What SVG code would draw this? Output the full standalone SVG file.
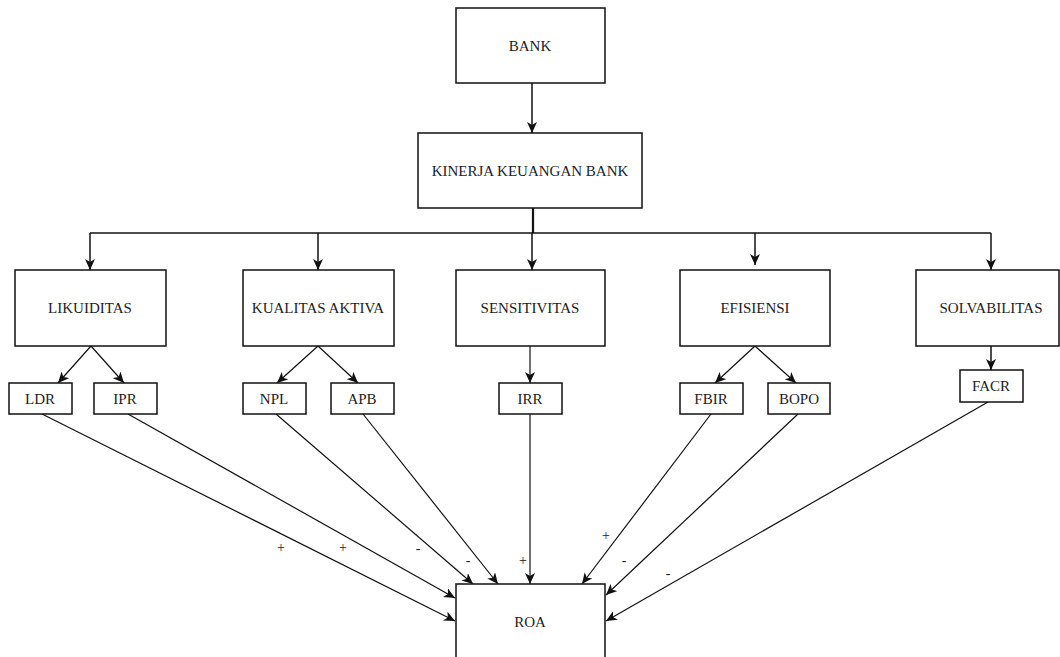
<svg xmlns="http://www.w3.org/2000/svg" width="1060" height="657" viewBox="0 0 1060 657">
<style>
.box{fill:#fff;stroke:#111;stroke-width:1.5}
.lbl{font-family:"Liberation Serif","Times New Roman",serif;font-size:15px;fill:#222;text-anchor:middle;dominant-baseline:central}
.sgn{font-family:"Liberation Serif","Times New Roman",serif;font-size:14px;fill:#222;text-anchor:middle;dominant-baseline:central}
.ln{fill:none;stroke:#111;stroke-width:1.2}
.ln2{fill:none;stroke:#111;stroke-width:1.5}
</style>
<defs>
<marker id="ah" markerUnits="userSpaceOnUse" markerWidth="12" markerHeight="10" viewBox="0 0 12 10" refX="11" refY="5" orient="auto">
<path d="M0,0 L11,5 L0,10 L3,5 z" fill="#111"/>
</marker>
</defs>
<rect width="1060" height="657" fill="#fff"/>
<g id="connectors">
<path class="ln2" d="M532,83 L532,133" marker-end="url(#ah)"/>
<path class="ln2" d="M533,208 L533,233" style="stroke-width:2.2"/>
<path class="ln2" d="M90,233 L991,233"/>
<path class="ln2" d="M90,233 L90,270" marker-end="url(#ah)"/>
<path class="ln2" d="M318,233 L318,270" marker-end="url(#ah)"/>
<path class="ln2" d="M532,233 L532,270" marker-end="url(#ah)"/>
<path class="ln2" d="M755,233 L755,265" marker-end="url(#ah)"/>
<path class="ln2" d="M991,233 L991,270" marker-end="url(#ah)"/>
<path class="ln" d="M91,346 L58,383" marker-end="url(#ah)"/>
<path class="ln" d="M91,346 L124,383" marker-end="url(#ah)"/>
<path class="ln" d="M318,346 L277,383" marker-end="url(#ah)"/>
<path class="ln" d="M318,346 L358,383" marker-end="url(#ah)"/>
<path class="ln" d="M530,346 L530,383" marker-end="url(#ah)"/>
<path class="ln" d="M755,346 L715,383" marker-end="url(#ah)"/>
<path class="ln" d="M755,346 L796,383" marker-end="url(#ah)"/>
<path class="ln2" d="M991,346 L991,370" marker-end="url(#ah)"/>
<path class="ln" d="M42,414 L455,621" marker-end="url(#ah)"/>
<path class="ln" d="M128,414 L455,598" marker-end="url(#ah)"/>
<path class="ln" d="M276,414 L473,584" marker-end="url(#ah)"/>
<path class="ln" d="M363,414 L498,584" marker-end="url(#ah)"/>
<path class="ln" d="M530,414 L530,584" marker-end="url(#ah)"/>
<path class="ln" d="M711,414 L582,584" marker-end="url(#ah)"/>
<path class="ln" d="M798,414 L606,595" marker-end="url(#ah)"/>
<path class="ln" d="M988,402 L606,621" marker-end="url(#ah)"/>
<text class="sgn" x="281" y="547">+</text>
<text class="sgn" x="343" y="547">+</text>
<text class="sgn" x="418" y="548">-</text>
<text class="sgn" x="468" y="560">-</text>
<text class="sgn" x="523" y="560">+</text>
<text class="sgn" x="606" y="535">+</text>
<text class="sgn" x="624" y="560">-</text>
<text class="sgn" x="668" y="573">-</text>
</g>
<g id="bank"><rect class="box" x="456" y="8" width="149" height="75"/><text class="lbl" x="530" y="46">BANK</text></g>
<g id="kinerja"><rect class="box" x="418" y="133" width="224" height="75"/><text class="lbl" x="530" y="171">KINERJA KEUANGAN BANK</text></g>
<g id="likuiditas"><rect class="box" x="15" y="270" width="151" height="76"/><text class="lbl" x="90" y="308">LIKUIDITAS</text></g>
<g id="kualitas"><rect class="box" x="243" y="270" width="151" height="76"/><text class="lbl" x="318" y="308">KUALITAS AKTIVA</text></g>
<g id="sensitivitas"><rect class="box" x="456" y="270" width="149" height="76"/><text class="lbl" x="530" y="308">SENSITIVITAS</text></g>
<g id="efisiensi"><rect class="box" x="680" y="270" width="150" height="76"/><text class="lbl" x="755" y="308">EFISIENSI</text></g>
<g id="solvabilitas"><rect class="box" x="916" y="270" width="143" height="76"/><text class="lbl" x="991" y="308">SOLVABILITAS</text></g>
<g id="ldr"><rect class="box" x="9" y="383" width="63" height="31"/><text class="lbl" x="40" y="399">LDR</text></g>
<g id="ipr"><rect class="box" x="94" y="383" width="63" height="31"/><text class="lbl" x="125" y="399">IPR</text></g>
<g id="npl"><rect class="box" x="243" y="383" width="63" height="31"/><text class="lbl" x="274" y="399">NPL</text></g>
<g id="apb"><rect class="box" x="331" y="383" width="63" height="31"/><text class="lbl" x="362" y="399">APB</text></g>
<g id="irr"><rect class="box" x="499" y="383" width="63" height="31"/><text class="lbl" x="530" y="399">IRR</text></g>
<g id="fbir"><rect class="box" x="680" y="383" width="63" height="31"/><text class="lbl" x="711" y="399">FBIR</text></g>
<g id="bopo"><rect class="box" x="768" y="383" width="62" height="31"/><text class="lbl" x="799" y="399">BOPO</text></g>
<g id="facr"><rect class="box" x="960" y="370" width="63" height="32"/><text class="lbl" x="991" y="386">FACR</text></g>
<g id="roa"><rect class="box" x="456" y="584" width="149" height="78"/><text class="lbl" x="530" y="622">ROA</text></g>
</svg>
